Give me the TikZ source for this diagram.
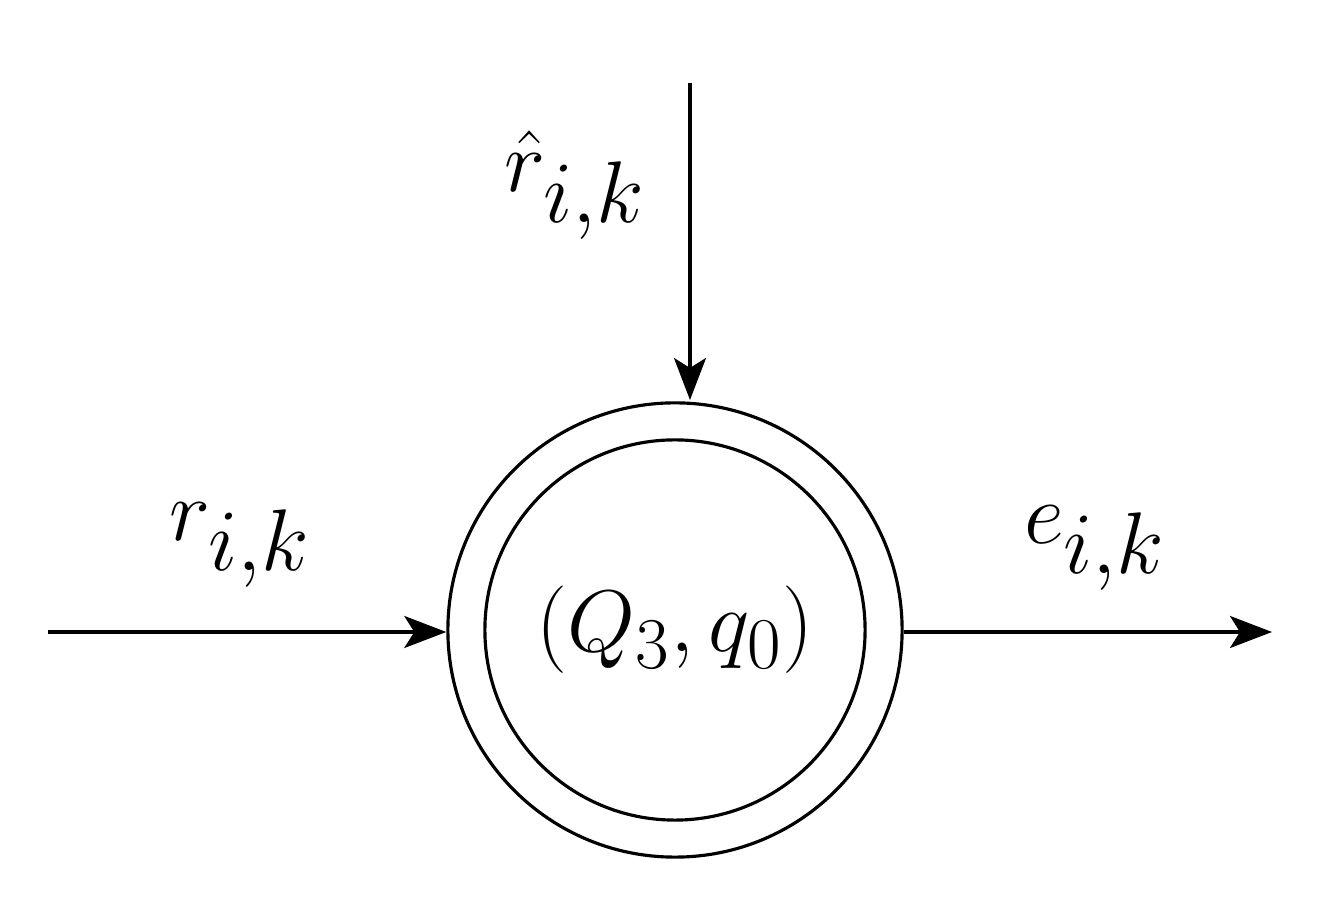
\documentclass[tikz,border=0pt]{standalone}
\usetikzlibrary{arrows.meta}
\begin{document}
\begin{tikzpicture}[x=0.01cm,y=-0.01cm,
  wire/.style={line width=0.9pt,-{Stealth[length=0.42cm,width=0.32cm,inset=0.1cm]}},
  lbl/.style={font=\fontsize{38}{40}\selectfont}]
\useasboundingbox (0,0) rectangle (1320,907);
\node[circle,draw,line width=0.9pt,minimum size=4.54cm,inner sep=0] (outer) at (675,630) {};
\node[circle,draw,line width=0.9pt,minimum size=3.80cm,inner sep=0,font=\fontsize{30}{32}\selectfont] (inner) at (675,630) {$(Q_3,q_0)$};
\coordinate (lin) at (48,632);
\coordinate (rout) at (1272,632);
\coordinate (top) at (690,83);
\draw[wire] (lin) -- (outer.west|-lin);
\draw[wire] (outer.east|-rout) -- (rout);
\draw[wire] (top) -- (690,400);
\node[lbl] (r) at (240,545) {$r_{i,k}$};
\node[lbl] (e) at (1095,548) {$e_{i,k}$};
\node[lbl] (rh) at (575,185) {$\hat r_{i,k}$};
\end{tikzpicture}
\end{document}
